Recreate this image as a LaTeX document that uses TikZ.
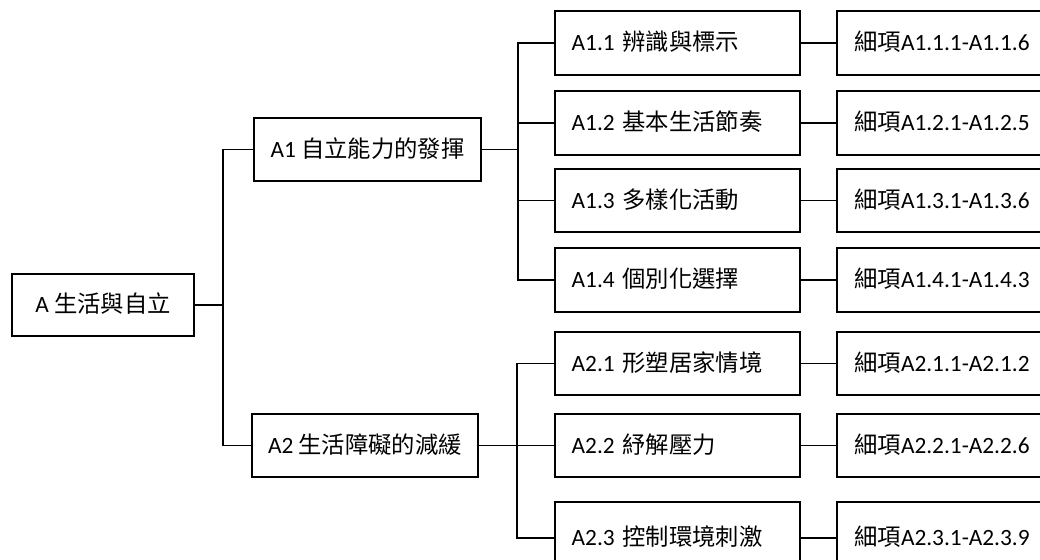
\documentclass[tikz,border=0pt]{standalone}
\usepackage{fontspec}
\setmainfont{Carlito}
\newfontfamily\cjk{Noto Sans CJK TC}
\newcommand{\boxfont}{\fontsize{17.5pt}{21pt}\selectfont}
\tikzset{
  treebox/.style={draw, line width=1.4pt, rectangle, inner sep=0pt,
    font=\boxfont, text height=14.6pt, text depth=2.8pt},
  toplevel/.style={treebox, minimum height=47pt},
  midlevel/.style={treebox, minimum height=47.5pt, inner xsep=12.5pt,
    text width=158.75pt, align=left},
  leaflevel/.style={treebox, minimum height=47.5pt, inner xsep=13pt,
    text width=141.25pt, align=left},
  link/.style={line width=1.4pt}
}
\begin{document}
\begin{tikzpicture}[x=0.75pt, y=-0.75pt]
\useasboundingbox (0,0) rectangle (1040,560);
\fill[white] (0,0) rectangle (1040,560);
\clip (0,0) rectangle (1040,560);

% root and first level
\node[toplevel, minimum width=136.5pt] (root) at (103,305) {A {\cjk 生活與自立}};
\node[toplevel, minimum width=170.25pt] (a1) at (367.5,149.5) {A1 {\cjk 自立能力的發揮}};
\node[toplevel, minimum width=169.5pt] (a2) at (365,445.5) {A2 {\cjk 生活障礙的減緩}};

% second level
\node[midlevel] (a11) at (677.5,43)  {A1.1 {\cjk 辨識與標示}};
\node[midlevel] (a12) at (677.5,123) {A1.2 {\cjk 基本生活節奏}};
\node[midlevel] (a13) at (677.5,200.5) {A1.3 {\cjk 多樣化活動}};
\node[midlevel] (a14) at (677.5,280) {A1.4 {\cjk 個別化選擇}};
\node[midlevel] (a21) at (677.5,363.5) {A2.1 {\cjk 形塑居家情境}};
\node[midlevel] (a22) at (677.5,445.5) {A2.2 {\cjk 紓解壓力}};
\node[midlevel, minimum height=54pt] (a23) at (677.5,538) {A2.3 {\cjk 控制環境刺激}};

% detail items
\node[leaflevel] (d11) at (948.5,43)  {{\cjk 細項}A1.1.1-A1.1.6};
\node[leaflevel] (d12) at (948.5,123) {{\cjk 細項}A1.2.1-A1.2.5};
\node[leaflevel] (d13) at (948.5,200.5) {{\cjk 細項}A1.3.1-A1.3.6};
\node[leaflevel] (d14) at (948.5,280) {{\cjk 細項}A1.4.1-A1.4.3};
\node[leaflevel] (d21) at (948.5,363.5) {{\cjk 細項}A2.1.1-A2.1.2};
\node[leaflevel] (d22) at (948.5,445.5) {{\cjk 細項}A2.2.1-A2.2.6};
\node[leaflevel, minimum height=54pt] (d23) at (948.5,538) {{\cjk 細項}A2.3.1-A2.3.9};

% junctions
\coordinate (j0) at (223,305);
\coordinate (j1) at (518,149.5);
\coordinate (j2) at (517,445.5);

% connectors
\draw[link] (root.east) -- (j0);
\draw[link] (j0) |- (a1.west);
\draw[link] (j0) |- (a2.west);
\draw[link] (a1.east) -- (j1);
\foreach \n in {a11,a12,a13,a14} \draw[link] (j1) |- (\n.west);
\draw[link] (a2.east) -- (j2);
\foreach \n in {a21,a22,a23} \draw[link] (j2) |- (\n.west);
\foreach \n in {11,12,13,14,21,22,23} \draw[link] (a\n.east) -- (d\n.west);
\end{tikzpicture}
\end{document}
